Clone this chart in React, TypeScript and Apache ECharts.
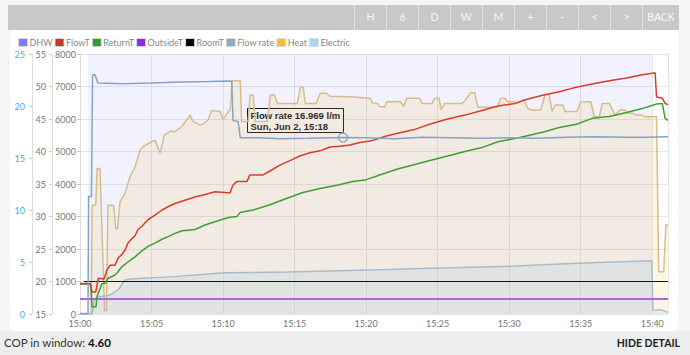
import React, { useEffect, useRef } from "react";
import * as echarts from "echarts";

// ---- data (minutes after 15:00, value) ----
const X_MAX = 41.1;
const TIME_PREFIX = "15:";

const dhw: [number, number][] = [[0, 0], [0.56, 0], [0.56, 1], [39.97, 1], [39.97, 0], [41.1, 0]];

const heat: [number, number][] = [
  [0, 0], [0.78, 0], [0.85, 3350], [1.1, 3350], [1.2, 4480], [1.4, 4480], [1.72, 100], [1.85, 100],
  [1.95, 3350], [2.35, 3350], [2.5, 2620], [2.62, 2620], [2.8, 3450], [3.15, 3720], [3.5, 4230],
  [3.85, 4530], [4.2, 5050], [4.4, 5150], [5.0, 5300], [5.25, 5350], [5.6, 4940], [5.9, 5510],
  [6.4, 5640], [6.6, 5600], [7.1, 5760], [7.45, 5970], [7.7, 6120], [7.9, 5920], [8.4, 5820],
  [8.6, 5850], [8.95, 5970], [9.2, 6260], [9.8, 6230], [10.0, 5990], [10.5, 6300], [10.65, 7180],
  [11.2, 7180], [11.3, 5920], [11.75, 5920], [11.9, 6740], [12.1, 6740], [12.25, 5920], [13.1, 5920],
  [13.3, 6740], [13.6, 6740], [13.8, 6480], [15.2, 6480], [15.4, 6970], [15.6, 6970], [15.75, 6480],
  [16.5, 6480], [16.8, 6790], [17.2, 6790], [17.5, 6700], [19.1, 6680], [20.3, 6640], [20.45, 6490],
  [20.8, 6480], [20.95, 6380], [21.3, 6380], [21.45, 6530], [22.4, 6540], [22.6, 6380], [22.85, 6640],
  [23.75, 6640], [23.9, 6480], [24.6, 6480], [24.8, 6640], [25.1, 6640], [25.25, 6280], [25.5, 6480],
  [26.7, 6480], [26.9, 6560], [27.3, 6810], [27.6, 6810], [27.8, 6360], [29.2, 6360], [29.4, 6640],
  [29.7, 6640], [29.9, 6530], [30.4, 6530], [30.6, 6480], [31.0, 6600], [31.3, 6330], [31.5, 6280],
  [32.2, 6280], [32.5, 6740], [32.8, 6740], [33.0, 6230], [33.2, 6430], [33.75, 6430], [33.9, 6230],
  [34.75, 6230], [35.0, 6530], [35.7, 6530], [35.95, 6070], [36.3, 6070], [36.5, 6480], [37.0, 6480],
  [37.4, 6120], [37.75, 6280], [38.1, 6280], [38.3, 6180], [38.6, 6180], [38.9, 6120], [39.3, 6120],
  [39.45, 6070], [40.3, 6070], [40.45, 1300], [40.8, 1300], [40.95, 2740], [41.1, 2740],
];

const electric: [number, number][] = [
  [0, 0], [0.85, 0], [1.0, 450], [1.25, 530], [2.0, 570], [2.25, 620], [2.66, 740], [3.14, 1046],
  [3.5, 1080], [4.33, 1100], [6.64, 1150], [8.94, 1230], [10.13, 1270], [14.5, 1290], [20.27, 1354],
  [24.6, 1405], [30.4, 1477], [34.7, 1560], [39.97, 1640], [40.04, 120], [40.7, 120], [41.1, 50],
];

const flowT: [number, number][] = [
  [0, 19.7], [0.7, 19.7], [0.84, 18.4], [1.1, 18.4], [1.28, 20.5], [1.68, 20.4], [1.89, 21.8],
  [2.1, 22.5], [2.45, 22.5], [2.66, 23.6], [2.94, 24.2], [3.14, 24.8], [3.35, 25.9], [3.63, 26.6],
  [3.84, 27.0], [4.05, 28.0], [4.33, 28.5], [4.75, 29.5], [5.24, 30.2], [5.73, 31.0], [6.15, 31.5],
  [6.64, 32.0], [7.34, 32.5], [8.04, 33.0], [8.74, 33.4], [9.43, 33.8], [10.13, 33.7], [10.48, 33.6],
  [10.69, 34.8], [10.97, 35.4], [11.67, 35.4], [11.88, 36.4], [12.79, 36.4], [13.28, 37.0],
  [13.98, 37.9], [14.67, 38.6], [15.37, 39.3], [16.07, 39.8], [16.77, 40.1], [17.47, 40.7],
  [18.17, 40.8], [18.87, 41.0], [19.57, 41.4], [20.27, 41.6], [20.6, 41.8], [21.3, 42.3], [22.2, 42.8],
  [23.4, 43.4], [24.6, 44.3], [25.7, 45.0], [26.9, 45.6], [28.1, 46.3], [29.2, 47.0], [30.4, 47.4],
  [31.2, 48.0], [32.4, 48.7], [33.5, 49.2], [34.7, 49.9], [35.8, 50.4], [37.0, 50.9], [38.2, 51.3],
  [39.3, 51.8], [39.9, 52.0], [40.2, 52.1], [40.3, 48.4], [40.7, 48.2], [40.9, 47.4], [41.1, 47.2],
];

const returnT: [number, number][] = [
  [0, 19.6], [0.75, 19.6], [0.84, 16.1], [1.12, 16.1], [1.19, 17.7], [1.54, 19.7], [1.75, 19.7],
  [1.96, 20.5], [2.45, 21.0], [2.66, 21.5], [2.94, 22.3], [3.35, 23.0], [3.84, 23.8], [4.33, 24.7],
  [4.75, 25.4], [5.24, 25.9], [5.73, 26.5], [6.15, 26.9], [6.64, 27.4], [7.13, 27.8], [8.04, 28.0],
  [8.74, 28.7], [9.43, 29.2], [10.13, 29.7], [10.48, 29.9], [10.97, 30.0], [11.18, 30.6], [12.09, 31.0],
  [13.28, 31.8], [14.47, 32.8], [15.58, 33.7], [16.77, 34.3], [17.96, 34.8], [19.08, 35.4],
  [19.92, 35.6], [21.1, 36.5], [22.2, 37.3], [23.4, 38.0], [24.6, 38.7], [25.7, 39.3], [26.9, 40.0],
  [28.1, 40.6], [29.2, 41.5], [30.4, 42.0], [31.2, 42.4], [32.4, 43.0], [33.5, 43.7], [34.7, 44.2],
  [35.8, 45.1], [37.0, 45.4], [38.2, 46.0], [39.3, 46.6], [40.3, 47.3], [40.7, 47.4], [40.9, 45.1],
  [41.1, 44.8],
];

const flowRate: [number, number][] = [
  [0, 0.05], [0.56, 0.05], [0.6, 11.3], [0.8, 11.3], [0.88, 23.0], [1.05, 23.0], [1.25, 22.2],
  [3, 22.15], [5, 22.2], [7, 22.3], [9, 22.35], [10.6, 22.4], [10.7, 18.6], [11.05, 18.5],
  [11.2, 16.95], [12.5, 16.95], [14, 16.85], [16, 16.9], [18.38, 16.969], [20, 16.95], [22, 16.85],
  [24, 17.0], [26, 16.95], [28, 16.9], [30, 16.95], [32, 16.9], [34, 17.0], [36, 17.05], [38, 17.0],
  [39.5, 17.0], [41.1, 17.05],
];

const roomT: [number, number][] = [[0.28, 20.0], [41.1, 20.0]];
const outsideT: [number, number][] = [[0, 17.3], [41.1, 17.3]];

const legendNames = ["DHW", "FlowT", "ReturnT", "OutsideT", "RoomT", "Flow rate", "Heat", "Electric"];
const legendColors = ["#7b7bff", "#cc3333", "#2e9e2e", "#8e2be8", "#000000", "#8fa9c4", "#f1c232", "#a5d8f3"];

const powerAxis = { min: 0, max: 8000, interval: 1000 };
const tempAxis = { min: 15, max: 55, interval: 5 };
const flowAxis = { min: 0, max: 25, interval: 5 };

const hover = { t: 18.38, value: 16.969, line1: "Flow rate 16.969 l/m", line2: "Sun, Jun 2, 15:18" };
const buttons = ["H", "6", "D", "W", "M", "+", "-", "<", ">", "BACK"];
const copValue = "4.60";

const FONT = 'Lato, "Open Sans", sans-serif';

export default function App() {
  const ref = useRef<HTMLDivElement>(null);

  useEffect(() => {
    document.body.style.margin = "0";
    if (!ref.current) return;
    const chart = echarts.init(ref.current, undefined, { renderer: "svg" });

    const axisCommon = (offset: number, color: string, margin: number) => ({
      type: "value" as const,
      position: "left" as const,
      offset,
      axisLine: { show: true, lineStyle: { color: "#dddddd", width: 1 } },
      axisTick: { show: true, length: 3, lineStyle: { color: "#cccccc" } },
      axisLabel: { color, fontSize: 9, fontFamily: FONT, margin, formatter: (v: number) => String(v) },
      splitLine: { show: false },
    });

    const lineSeries = (name: string, data: [number, number][], color: string, yAxisIndex: number, width = 1.5) => ({
      name,
      type: "line" as const,
      data,
      yAxisIndex,
      symbol: "none",
      color,
      lineStyle: { color, width },
      itemStyle: { color },
      z: 5,
    });

    chart.setOption({
      animation: false,
      backgroundColor: "transparent",
      textStyle: { fontFamily: FONT },
      legend: {
        left: 18,
        top: 38,
        padding: 0,
        itemWidth: 9,
        itemHeight: 8,
        itemGap: 2,
        icon: "rect",
        textStyle: { color: "#888888", fontSize: 9, fontFamily: FONT, padding: [0, 0, 0, -3] },
        selectedMode: false,
        data: legendNames.map((n, i) => ({
          name: n,
          itemStyle: { color: legendColors[i], borderColor: "#d8d8d8", borderWidth: 1 },
        })),
      },
      grid: { left: 80, right: 22, top: 54, bottom: 41 },
      xAxis: {
        type: "value",
        min: 0,
        max: X_MAX,
        interval: 5,
        axisLine: { show: false },
        axisTick: { show: false },
        splitLine: { show: true, lineStyle: { color: "#e6e6e6" } },
        axisLabel: {
          color: "#777777",
          fontSize: 9,
          fontFamily: FONT,
          margin: 5,
          formatter: (v: number) => {
            if (Math.abs(v % 5) > 1e-6) return "";
            return TIME_PREFIX + String(Math.round(v)).padStart(2, "0");
          },
        },
      },
      yAxis: [
        { ...axisCommon(0, "#777777", 4), ...powerAxis, splitLine: { show: true, lineStyle: { color: "#e6e6e6" } } },
        { ...axisCommon(28, "#777777", 6), ...tempAxis },
        { ...axisCommon(48, "#4aa8e8", 7), ...flowAxis },
        { type: "value", min: 0, max: 1, show: false },
      ],
      series: [
        {
          name: "DHW",
          type: "line",
          data: dhw,
          yAxisIndex: 3,
          symbol: "none",
          color: legendColors[0],
          lineStyle: { width: 0, opacity: 0 },
          areaStyle: { color: "rgba(128,128,255,0.15)" },
          z: 1,
        },
        {
          name: "Heat",
          type: "line",
          data: heat,
          yAxisIndex: 0,
          symbol: "none",
          color: legendColors[6],
          lineStyle: { color: "#d6bd8c", width: 1.5 },
          areaStyle: { color: "rgba(245,195,70,0.22)" },
          z: 2,
        },
        {
          name: "Electric",
          type: "line",
          data: electric,
          yAxisIndex: 0,
          symbol: "none",
          color: legendColors[7],
          lineStyle: { color: "#a9bccb", width: 1.5 },
          areaStyle: { color: "rgba(140,190,220,0.25)" },
          z: 3,
        },
        lineSeries("OutsideT", outsideT, "#a866d8", 1, 2),
        lineSeries("RoomT", roomT, "#111111", 1, 1),
        lineSeries("ReturnT", returnT, "#3f9f2f", 1),
        lineSeries("FlowT", flowT, "#dd3b2a", 1),
        {
          ...lineSeries("Flow rate", flowRate, "#86a3c3", 2),
          markPoint: {
            symbol: "circle",
            symbolSize: 9,
            label: { show: false },
            itemStyle: { color: "rgba(255,255,255,0.2)", borderColor: "#8fa9c4", borderWidth: 1.5 },
            data: [{ coord: [hover.t, hover.value] }],
          },
        },
      ],
    });

    const p = chart.convertToPixel({ xAxisIndex: 0, yAxisIndex: 2 }, [hover.t, hover.value]) as number[];
    const bx = Math.round(p[0]) - 96 + 0.5;
    const by = Math.round(p[1]) - 30 + 0.5;
    const tipFont = '"Liberation Sans", Arial, sans-serif';
    chart.setOption({
      graphic: [
        {
          type: "group",
          z: 100,
          children: [
            { type: "rect", shape: { x: bx, y: by, width: 96, height: 24 }, style: { fill: "#ffffff", stroke: "#000000", lineWidth: 1 } },
            {
              type: "text",
              x: bx + 3,
              y: by + 7,
              style: { text: hover.line1, fill: "#000", fontSize: 9.5, fontWeight: "bold", fontFamily: tipFont, verticalAlign: "middle" },
            },
            {
              type: "text",
              x: bx + 3,
              y: by + 18,
              style: { text: hover.line2, fill: "#000", fontSize: 9.5, fontWeight: "bold", fontFamily: tipFont, verticalAlign: "middle" },
            },
          ],
        },
      ],
    });

    return () => chart.dispose();
  }, []);

  return (
    <div style={{ position: "fixed", left: 0, top: 0, width: 690, height: 355, background: "#f5f5f5", overflow: "hidden", fontFamily: FONT }}>
      <div style={{ position: "absolute", left: 8, top: 5, width: 671, height: 25, background: "#c8c8c8" }} />
      <div style={{ position: "absolute", right: 11, top: 5, height: 25, display: "flex" }}>
        {buttons.map((b) => (
          <div
            key={b}
            style={{
              width: b === "BACK" ? 36 : 31,
              height: 25,
              borderLeft: "1px solid #e2e2e2",
              color: "#f6f6f6",
              fontSize: 10.5,
              lineHeight: "25px",
              textAlign: "center",
            }}
          >
            {b}
          </div>
        ))}
      </div>
      <div style={{ position: "absolute", left: 10, top: 30, width: 668, height: 301, background: "#ffffff" }} />
      <div style={{ position: "absolute", left: 0, top: 331, width: 690, height: 24, background: "#eeeeee" }}>
        <span style={{ position: "absolute", left: 4, top: 0, lineHeight: "24px", fontSize: 11.5, color: "#333" }}>
          COP in window: <b style={{ color: "#111", fontWeight: 700 }}>{copValue}</b>
        </span>
        <span style={{ position: "absolute", right: 10, top: 0, lineHeight: "24px", fontSize: 10.5, fontWeight: 700, color: "#222" }}>
          HIDE DETAIL
        </span>
      </div>
      <div ref={ref} style={{ position: "absolute", left: 0, top: 0, width: 690, height: 355 }} />
    </div>
  );
}
